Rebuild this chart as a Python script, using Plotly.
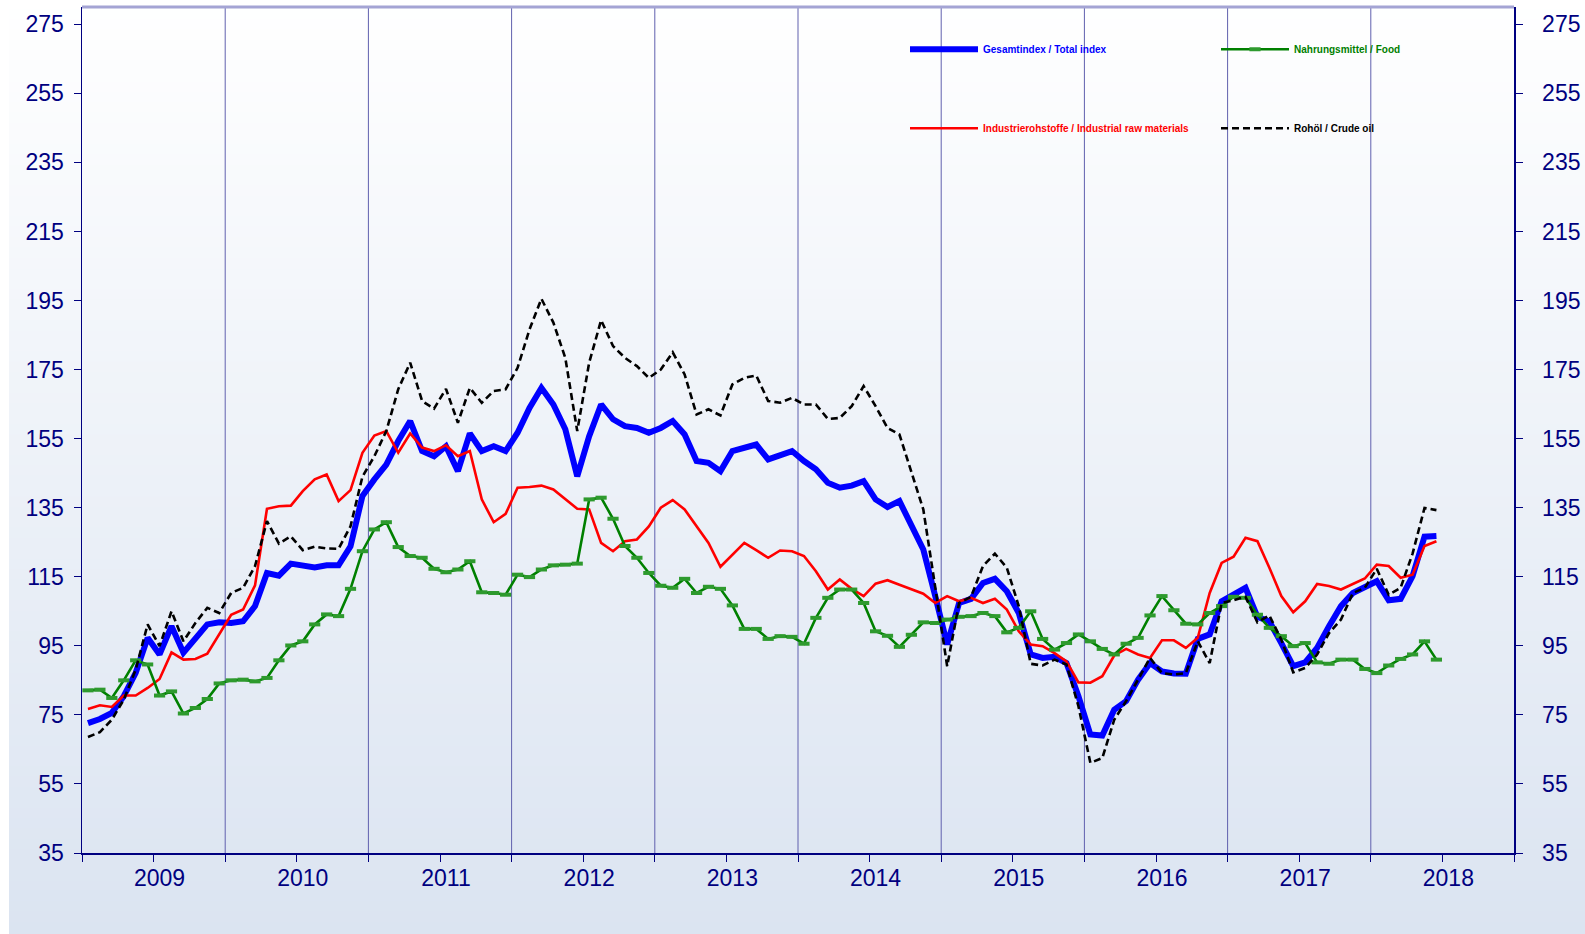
import plotly.graph_objects as go

years = [2009, 2010, 2011, 2012, 2013, 2014, 2015, 2016, 2017, 2018]
y_ticks = [35, 55, 75, 95, 115, 135, 155, 175, 195, 215, 235, 255, 275]

names = ["Gesamtindex / Total index", "Nahrungsmittel / Food",
         "Industrierohstoffe / Industrial raw materials", "Rohöl / Crude oil"]

total = [72.6, 73.8, 75.6, 80.4, 87.2, 97.3, 92.5, 100.7, 93.0, 97.3, 101.2, 101.8,
         101.6, 102.1, 106.5, 116.1, 115.3, 118.8, 118.4, 117.7, 118.3, 118.3, 123.8, 138.4,
         143.2, 147.5, 154.3, 160.1, 151.4, 149.9, 152.8, 145.6, 156.5, 151.4, 152.8, 151.4,
         156.7, 163.9, 169.7, 164.9, 157.7, 144.1, 155.7, 164.9, 160.6, 158.6, 158.1, 156.7,
         158.1, 160.1, 156.2, 148.5, 148.0, 145.6, 151.4, 152.3, 153.3, 149.0, 150.2, 151.4,
         148.5, 146.1, 142.2, 140.8, 141.4, 142.7, 137.4, 135.2, 136.9, 130.1, 122.9, 109.4,
         95.4, 107.4, 108.6, 113.2, 114.4, 110.8, 104.5, 92.5, 91.5, 91.8, 90.0, 80.4,
         69.3, 69.0, 76.5, 79.0, 85.2, 90.0, 87.6, 87.0, 86.9, 97.0, 98.3, 107.9,
         109.8, 111.8, 103.4, 102.1, 95.8, 89.1, 90.2, 94.4, 100.7, 106.5, 110.3, 111.8,
         113.7, 108.2, 108.6, 115.2, 126.6, 126.8]

industrial = [76.7, 77.8, 77.3, 80.6, 80.6, 82.8, 85.4, 93.1, 91.0, 91.2, 92.7, 98.5,
              104.0, 105.5, 112.5, 134.7, 135.4, 135.6, 139.8, 143.2, 144.6, 136.9, 140.1, 150.9,
              155.9, 157.2, 150.9, 156.5, 152.4, 151.4, 153.1, 149.9, 151.4, 137.4, 130.8, 133.2,
              140.8, 141.0, 141.4, 140.3, 137.6, 134.7, 134.5, 124.8, 122.4, 125.3, 125.8, 129.6,
              135.0, 137.2, 134.5, 129.7, 124.8, 117.9, 121.4, 124.8, 122.7, 120.5, 122.6, 122.4,
              121.0, 116.6, 111.3, 114.2, 111.5, 109.4, 113.0, 114.0, 112.7, 111.5, 110.1, 107.4,
              109.4, 107.9, 108.9, 107.4, 108.6, 105.5, 99.2, 95.4, 94.9, 92.9, 90.5, 84.4,
              84.3, 86.2, 92.2, 94.1, 92.5, 91.5, 96.6, 96.6, 94.4, 97.3, 110.3, 119.0,
              120.8, 126.3, 125.3, 117.6, 109.4, 104.7, 107.9, 112.9, 112.3, 111.3, 112.9, 114.5,
              118.5, 118.1, 114.7, 115.6, 123.9, 125.3]

food = [82.1, 82.3, 79.9, 85.0, 90.8, 89.6, 80.6, 81.8, 75.4, 77.0, 79.6, 84.1,
        85.0, 85.2, 84.7, 85.7, 90.8, 95.1, 96.3, 101.2, 104.1, 103.6, 111.5, 122.4,
        128.7, 130.8, 123.6, 121.0, 120.5, 117.3, 116.3, 117.1, 119.5, 110.5, 110.3, 109.8,
        115.6, 114.9, 117.1, 118.3, 118.5, 118.8, 137.4, 137.9, 131.8, 123.9, 120.5, 116.1,
        112.4, 111.8, 114.4, 110.3, 112.1, 111.5, 106.7, 99.9, 99.9, 97.0, 97.8, 97.6,
        95.6, 103.1, 108.9, 111.3, 111.3, 107.4, 99.2, 97.9, 94.7, 98.2, 101.8, 101.6,
        102.6, 103.4, 103.6, 104.5, 103.6, 98.9, 100.2, 105.0, 97.0, 93.9, 95.8, 98.3,
        96.3, 94.1, 92.5, 95.6, 97.3, 103.8, 109.4, 105.3, 101.4, 101.2, 104.5, 106.5,
        109.2, 108.9, 104.0, 100.2, 97.8, 94.9, 95.8, 90.2, 89.8, 91.0, 91.0, 88.3,
        87.1, 89.3, 91.2, 92.5, 96.3, 91.0]

crude = [68.6, 70.0, 73.6, 79.4, 88.1, 101.2, 94.9, 105.0, 96.3, 101.6, 106.0, 104.5,
         110.3, 111.8, 118.1, 131.1, 124.6, 126.7, 122.7, 123.7, 123.2, 123.1, 129.6, 144.0,
         149.9, 157.2, 169.3, 177.0, 165.9, 163.7, 169.4, 159.6, 169.7, 165.4, 168.8, 169.3,
         175.5, 186.6, 195.5, 188.6, 178.4, 157.2, 177.0, 189.3, 181.8, 178.4, 176.0, 172.6,
         175.0, 180.0, 173.6, 162.0, 163.5, 161.7, 170.7, 172.6, 173.3, 165.9, 165.4, 166.8,
         164.9, 164.9, 160.7, 161.0, 164.4, 170.2, 164.4, 158.1, 156.2, 145.6, 134.5, 112.0,
         89.1, 107.4, 109.2, 118.1, 121.7, 117.6, 106.5, 89.8, 89.3, 91.0, 89.6, 77.5,
         61.1, 62.5, 73.6, 79.0, 85.2, 91.5, 87.1, 86.7, 87.1, 96.3, 90.0, 107.4,
         108.2, 109.2, 101.8, 103.8, 96.8, 87.3, 88.6, 92.5, 98.7, 102.6, 110.3, 111.8,
         117.3, 109.8, 111.8, 121.7, 134.9, 134.3]

months = list(range(len(total)))  # month index, 0 = Jan 2009

NAVY = "#000080"
FONT = "Liberation Sans, Arial, sans-serif"

W, H = 1585, 934
ML, MR, MT, MB = 82, 71, 7, 81
PW, PH = W - ML - MR, H - MT - MB

fig = go.Figure()

fig.add_trace(go.Scatter(x=months, y=total, mode="lines", name=names[0],
                         line=dict(color="#0000ff", width=6), legend="legend"))
fig.add_trace(go.Scatter(x=months, y=industrial, mode="lines", name=names[2],
                         line=dict(color="#ff0000", width=2.6), legend="legend3"))
fig.add_trace(go.Scatter(x=months, y=food, mode="lines+markers", name=names[1],
                         line=dict(color="#008000", width=2.6),
                         marker=dict(symbol="line-ew", size=8, color="#2e9a2e",
                                     line=dict(color="#2e9a2e", width=4)),
                         legend="legend2"))
fig.add_trace(go.Scatter(x=months, y=crude, mode="lines", name=names[3],
                         line=dict(color="#000000", width=2.6, dash="7px,4px"),
                         legend="legend4"))
# invisible trace to carry the secondary (label / right) axes
fig.add_trace(go.Scatter(x=months, y=total, mode="lines", xaxis="x2", yaxis="y2",
                         line=dict(width=0, color="rgba(0,0,0,0)"), showlegend=False,
                         hoverinfo="skip"))

xr = [-0.5, 12 * len(years) - 0.5]
half_years = [-0.5 + 6 * j for j in range(2 * len(years) + 1)]
label_pos = [12 * k + 6 for k in range(len(years))]

shapes = []
# background gradient
n = 90
for s in range(n):
    fy0 = H * s / n
    fy1 = H * (s + 1) / n
    t = ((fy0 + fy1) / 2) / H
    r = round(255 - 36 * t)
    g = round(255 - 27 * t)
    b = round(255 - 14 * t)
    shapes.append(dict(type="rect", xref="paper", yref="paper",
                       x0=(9 - ML) / PW, x1=(W - ML) / PW,
                       y0=(H - MB - fy1) / PH, y1=(H - MB - fy0) / PH + 0.002,
                       fillcolor=f"rgb({r},{g},{b})", line=dict(width=0), layer="below"))
# year separators
for k in range(1, len(years)):
    shapes.append(dict(type="line", xref="x", yref="paper", x0=12 * k - 0.5, x1=12 * k - 0.5,
                       y0=0, y1=1, line=dict(color="#6060ae", width=1), layer="below"))
# top border
shapes.append(dict(type="line", xref="paper", yref="paper", x0=0, x1=1, y0=1, y1=1,
                   line=dict(color="#a4a4d4", width=3)))

axis_common = dict(showgrid=False, zeroline=False, showline=True, linecolor=NAVY,
                   linewidth=1.5, tickcolor=NAVY, tickwidth=1, automargin=False,
                   tickfont=dict(family=FONT, size=23, color=NAVY))

legend_common = dict(bgcolor="rgba(0,0,0,0)", borderwidth=0, itemwidth=68,
                     xanchor="left", yanchor="middle", itemclick=False)

lx1 = (905 - ML) / PW
lx2 = (1216 - ML) / PW
ly1 = 1 - (49.3 - MT) / PH
ly2 = 1 - (128.3 - MT) / PH

fig.update_layout(
    width=W, height=H,
    margin=dict(l=ML, r=MR, t=MT, b=MB, autoexpand=False),
    paper_bgcolor="white",
    plot_bgcolor="rgba(0,0,0,0)",
    shapes=shapes,
    xaxis=dict(range=xr, tickmode="array", tickvals=half_years, ticks="outside", ticklen=7,
               showticklabels=False, **axis_common),
    xaxis2=dict(range=xr, overlaying="x", anchor="y", side="bottom", tickmode="array",
                tickvals=label_pos, ticktext=[str(y) for y in years], ticks="",
                showgrid=False, zeroline=False, showline=False, ticklabelstandoff=9,
                automargin=False,
                tickfont=dict(family=FONT, size=23, color=NAVY)),
    yaxis=dict(range=[35, 280], tickmode="array", tickvals=y_ticks, ticks="outside",
               ticklen=7, ticklabelstandoff=5, **axis_common),
    yaxis2=dict(range=[35, 280], overlaying="y", side="right", anchor="x", tickmode="array",
                tickvals=y_ticks, ticks="outside", ticklen=7, ticklabelstandoff=15,
                **axis_common),
    legend=dict(x=lx1, y=ly1, font=dict(family=FONT, size=10, color="#0000ff", weight="bold"),
                **legend_common),
    legend2=dict(x=lx2, y=ly1, font=dict(family=FONT, size=10, color="#008000", weight="bold"),
                 **legend_common),
    legend3=dict(x=lx1, y=ly2, font=dict(family=FONT, size=10, color="#ff0000", weight="bold"),
                 **legend_common),
    legend4=dict(x=lx2, y=ly2, font=dict(family=FONT, size=10, color="#000000", weight="bold"),
                 **legend_common),
    hovermode=False,
)

fig.write_html("out.html",
               config={"displayModeBar": False, "staticPlot": True},
               post_script="document.body.style.margin='0px';"
                           "document.body.style.overflow='hidden';")
